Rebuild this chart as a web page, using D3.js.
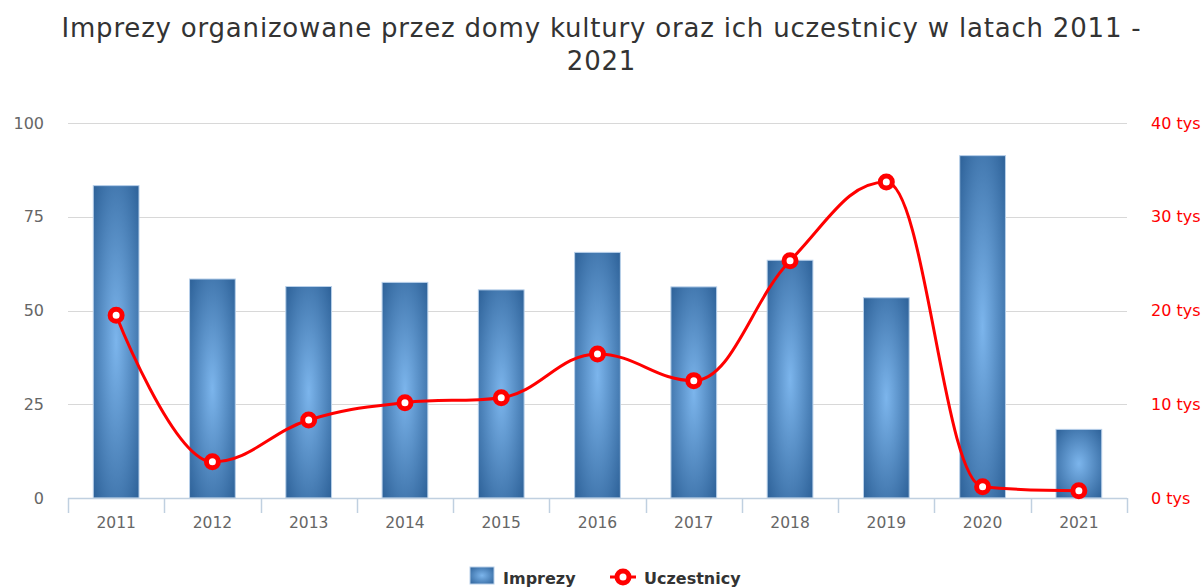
<!DOCTYPE html>
<html>
<head>
<meta charset="utf-8">
<script src="https://cdn.jsdelivr.net/npm/d3@7"></script>
<style>
  body { margin: 0; background: #fff; }
  svg text { font-family: "DejaVu Sans", Verdana, sans-serif; }
</style>
</head>
<body>
<div id="chart"></div>
<script>
// dane
var years = ["2011","2012","2013","2014","2015","2016","2017","2018","2019","2020","2021"]
var imprezy = [83.3, 58.4, 56.4, 57.5, 55.5, 65.5, 56.3, 63.4, 53.4, 91.3, 18.3]
var uczestnicy = [19500, 3870, 8320, 10170, 10700, 15370, 12520, 25300, 33700, 1200, 780]
var leftTicks = [0, 25, 50, 75, 100]
var rightTicks = [0, 10000, 20000, 30000, 40000]
var titleLines = ["Imprezy organizowane przez domy kultury oraz ich uczestnicy w latach 2011 -", "2021"]

var width = 1203, height = 587
var plotL = 68, plotR = 1127, plotT = 123, plotB = 498

var svg = d3.select("#chart").append("svg")
  .attr("width", width)
  .attr("height", height)

var defs = svg.append("defs")
var grad = defs.append("radialGradient")
  .attr("id", "barGrad")
  .attr("cx", 0.5).attr("cy", 0.5).attr("r", 0.72)
grad.append("stop").attr("offset", "0%").attr("stop-color", "#7cb5ec")
grad.append("stop").attr("offset", "100%").attr("stop-color", "#2b5f96")

var x = d3.scaleBand()
  .domain(years)
  .range([plotL, plotR])
  .padding(0)
var yL = d3.scaleLinear().domain([0, 100]).range([plotB, plotT])
var yR = d3.scaleLinear().domain([0, 40000]).range([plotB, plotT])

// tytul
svg.append("g").selectAll("text").data(titleLines).enter().append("text")
  .attr("x", width / 2)
  .attr("y", function(d, i){ return 37 + i * 33 })
  .attr("text-anchor", "middle")
  .style("font-size", "26px")
  .style("letter-spacing", "0.8px")
  .style("fill", "#333")
  .text(function(d){ return d })

// siatka
svg.append("g").selectAll("line").data(leftTicks.slice(1)).enter().append("line")
  .attr("x1", plotL).attr("x2", plotR)
  .attr("y1", function(d){ return Math.round(yL(d)) + 0.5 })
  .attr("y2", function(d){ return Math.round(yL(d)) + 0.5 })
  .style("stroke", "#d8d8d8")
  .style("stroke-width", 1)

// lewa os
svg.append("g").selectAll("text").data(leftTicks).enter().append("text")
  .attr("x", 44)
  .attr("y", function(d){ return yL(d) })
  .attr("dy", "0.35em")
  .attr("text-anchor", "end")
  .style("font-size", "16px")
  .style("fill", "#666")
  .text(function(d){ return d })

// prawa os
svg.append("g").selectAll("text").data(rightTicks).enter().append("text")
  .attr("x", 1151)
  .attr("y", function(d){ return yR(d) })
  .attr("dy", "0.35em")
  .attr("text-anchor", "start")
  .style("font-size", "16px")
  .style("fill", "#ff0000")
  .text(function(d){ return (d / 1000) + " tys" })

// slupki
var barW = x.bandwidth() * 0.475
svg.append("g").selectAll("rect").data(imprezy).enter().append("rect")
  .attr("x", function(d, i){ return x(years[i]) + x.bandwidth() / 2 - barW / 2 })
  .attr("y", function(d){ return yL(d) })
  .attr("width", barW)
  .attr("height", function(d){ return plotB - yL(d) })
  .style("fill", "url(#barGrad)")
  .style("stroke", "#b8d0ea")
  .style("stroke-width", 1)

// os x
var xa = svg.append("g")
xa.append("line")
  .attr("x1", plotL).attr("x2", plotR)
  .attr("y1", plotB + 0.5).attr("y2", plotB + 0.5)
  .style("stroke", "#c0d0e0").style("stroke-width", 1.5)
var edges = years.map(function(d){ return x(d) }).concat([plotR])
xa.selectAll("line.tk").data(edges).enter().append("line")
  .attr("class", "tk")
  .attr("x1", function(d){ return Math.round(d) + 0.5 })
  .attr("x2", function(d){ return Math.round(d) + 0.5 })
  .attr("y1", plotB).attr("y2", plotB + 15)
  .style("stroke", "#c0d0e0").style("stroke-width", 1.5)
xa.selectAll("text").data(years).enter().append("text")
  .attr("x", function(d){ return x(d) + x.bandwidth() / 2 })
  .attr("y", 528)
  .attr("text-anchor", "middle")
  .style("font-size", "15.5px")
  .style("fill", "#666")
  .text(function(d){ return d })

// spline w stylu highcharts
function splinePath(pts){
  var sm = 1.5, den = sm + 1
  var ctrl = pts.map(function(p, i){
    var prev = pts[i - 1], next = pts[i + 1]
    if (!prev || !next) return {lx: p[0], ly: p[1], rx: p[0], ry: p[1]}
    var lx = (sm * p[0] + prev[0]) / den, ly = (sm * p[1] + prev[1]) / den
    var rx = (sm * p[0] + next[0]) / den, ry = (sm * p[1] + next[1]) / den
    var corr = 0
    if (rx !== lx) corr = ((ry - ly) * (rx - p[0])) / (rx - lx) + p[1] - ry
    ly += corr; ry += corr
    if (ly > prev[1] && ly > p[1]) { ly = Math.max(prev[1], p[1]); ry = 2 * p[1] - ly }
    else if (ly < prev[1] && ly < p[1]) { ly = Math.min(prev[1], p[1]); ry = 2 * p[1] - ly }
    if (ry > next[1] && ry > p[1]) { ry = Math.max(next[1], p[1]); ly = 2 * p[1] - ry }
    else if (ry < next[1] && ry < p[1]) { ry = Math.min(next[1], p[1]); ly = 2 * p[1] - ry }
    return {lx: lx, ly: ly, rx: rx, ry: ry}
  })
  var path = d3.path()
  path.moveTo(pts[0][0], pts[0][1])
  for (var i = 1; i < pts.length; i++) {
    path.bezierCurveTo(ctrl[i - 1].rx, ctrl[i - 1].ry, ctrl[i].lx, ctrl[i].ly, pts[i][0], pts[i][1])
  }
  return path.toString()
}

var pts = uczestnicy.map(function(d, i){ return [x(years[i]) + x.bandwidth() / 2, yR(d)] })
svg.append("path")
  .attr("d", splinePath(pts))
  .style("fill", "none")
  .style("stroke", "#ff0000")
  .style("stroke-width", 3)
svg.append("g").selectAll("circle").data(pts).enter().append("circle")
  .attr("cx", function(d){ return d[0] })
  .attr("cy", function(d){ return d[1] })
  .attr("r", 6)
  .style("fill", "#fff")
  .style("stroke", "#ff0000")
  .style("stroke-width", 5)

// legenda
var lg = svg.append("g")
lg.append("rect")
  .attr("x", 470).attr("y", 567).attr("width", 24).attr("height", 17)
  .style("fill", "url(#barGrad)")
  .style("stroke", "#b8d0ea")
lg.append("text")
  .attr("x", 503).attr("y", 584)
  .style("font-size", "16px").style("font-weight", "bold").style("fill", "#333")
  .text("Imprezy")
lg.append("line")
  .attr("x1", 610).attr("x2", 636).attr("y1", 577).attr("y2", 577)
  .style("stroke", "#ff0000").style("stroke-width", 3)
lg.append("circle")
  .attr("cx", 623).attr("cy", 577).attr("r", 6)
  .style("fill", "#fff").style("stroke", "#ff0000").style("stroke-width", 5)
lg.append("text")
  .attr("x", 644).attr("y", 584)
  .style("font-size", "16px").style("font-weight", "bold").style("fill", "#333")
  .text("Uczestnicy")
</script>
</body>
</html>
